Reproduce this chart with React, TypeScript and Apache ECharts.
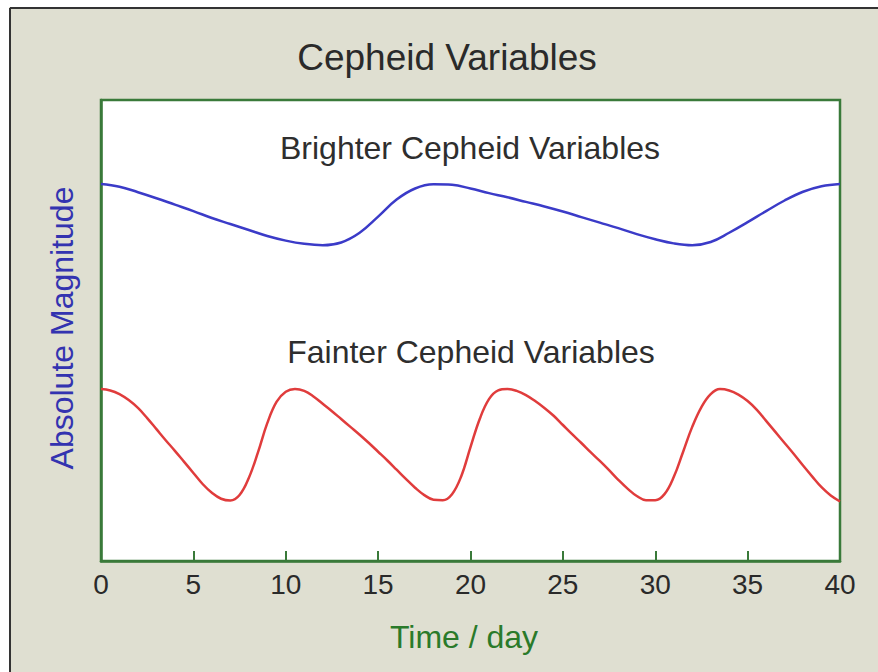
import React, { useEffect, useRef } from "react";
import * as echarts from "echarts";

const chartTitle = "Cepheid Variables";
const xAxisTitle = "Time / day";
const yAxisTitle = "Absolute Magnitude";
const brightLabel = "Brighter Cepheid Variables";
const faintLabel = "Fainter Cepheid Variables";

// x-axis ticks (days)
const xMin = 0;
const xMax = 40;
const xStep = 5;
// y axis: relative brightness level (higher = brighter), no labels shown
const yMin = 0;
const yMax = 10;

// Brighter Cepheid: one reading per day
const brightDays = [0, 1, 2, 3, 4, 5, 6, 7, 8, 9, 10, 11, 12, 13, 14, 15, 16, 17, 18, 19, 20, 21, 22, 23, 24, 25, 26, 27, 28, 29, 30, 31, 32, 33, 34, 35, 36, 37, 38, 39, 40];
const brightLevel = [8.18, 8.12, 8.0, 7.87, 7.73, 7.59, 7.44, 7.31, 7.18, 7.05, 6.95, 6.88, 6.85, 6.91, 7.12, 7.47, 7.84, 8.08, 8.17, 8.16, 8.08, 7.98, 7.89, 7.79, 7.69, 7.58, 7.46, 7.34, 7.22, 7.09, 6.98, 6.89, 6.85, 6.92, 7.12, 7.35, 7.59, 7.82, 8.01, 8.13, 8.18];

// Fainter Cepheid: one reading per half day
const faintDays = [0, 0.5, 1, 1.5, 2, 2.5, 3, 3.5, 4, 4.5, 5, 5.5, 6, 6.5, 7, 7.5, 8, 8.5, 9, 9.5, 10, 10.5, 11, 11.5, 12, 12.5, 13, 13.5, 14, 14.5, 15, 15.5, 16, 16.5, 17, 17.5, 18, 18.5, 19, 19.5, 20, 20.5, 21, 21.5, 22, 22.5, 23, 23.5, 24, 24.5, 25, 25.5, 26, 26.5, 27, 27.5, 28, 28.5, 29, 29.5, 30, 30.5, 31, 31.5, 32, 32.5, 33, 33.5, 34, 34.5, 35, 35.5, 36, 36.5, 37, 37.5, 38, 38.5, 39, 39.5, 40];
const faintLevel = [
  3.73, 3.70, 3.62, 3.49, 3.32, 3.10, 2.86, 2.62, 2.39, 2.15,
  1.91, 1.67, 1.48, 1.35, 1.31, 1.43, 1.80, 2.36, 2.99, 3.45,
  3.67, 3.73, 3.69, 3.57, 3.41, 3.25, 3.08, 2.91, 2.74, 2.56,
  2.37, 2.18, 1.98, 1.78, 1.59, 1.43, 1.33, 1.32, 1.45, 1.84,
  2.47, 3.08, 3.51, 3.70, 3.73, 3.69, 3.60, 3.47, 3.32, 3.15,
  2.95, 2.75, 2.56, 2.36, 2.17, 1.97, 1.76, 1.57, 1.41, 1.32,
  1.32, 1.45, 1.82, 2.36, 2.91, 3.34, 3.62, 3.73, 3.70, 3.61,
  3.47, 3.28, 3.04, 2.80, 2.56, 2.32, 2.07, 1.83, 1.60, 1.42,
  1.29,
];

const FONT = '"Liberation Sans", Arial, Helvetica, sans-serif';
const GREEN = "#3a7a3a";

export default function App() {
  const ref = useRef<HTMLDivElement>(null);
  useEffect(() => {
    document.body.style.margin = "0";
    const chart = echarts.init(ref.current!, undefined, { renderer: "svg" });
    const bright = brightDays.map((d, i) => [d, brightLevel[i]]);
    const faint = faintDays.map((d, i) => [d, faintLevel[i]]);
    chart.setOption({
      animation: false,
      backgroundColor: "#dfdfd1",
      grid: {
        left: 101,
        top: 100,
        right: 38,
        bottom: 111,
        show: true,
        backgroundColor: "#ffffff",
        borderColor: GREEN,
        borderWidth: 2.5,
      },
      xAxis: {
        type: "value",
        position: "bottom",
        z: 5,
        min: xMin,
        max: xMax,
        interval: xStep,
        axisLine: { show: true, onZero: false, lineStyle: { color: GREEN, width: 2.5 } },
        axisTick: { show: true, inside: true, length: 10, lineStyle: { color: GREEN, width: 2 } },
        splitLine: { show: false },
        axisLabel: { color: "#2a2a2a", fontSize: 28, fontFamily: FONT, margin: 9 },
      },
      yAxis: {
        type: "value",
        min: yMin,
        max: yMax,
        axisLine: { show: true, onZero: false, lineStyle: { color: GREEN, width: 2.5 } },
        axisTick: { show: false },
        axisLabel: { show: false },
        splitLine: { show: false },
      },
      series: [
        {
          type: "line",
          data: bright,
          smooth: 0.4,
          showSymbol: false,
          lineStyle: { color: "#3b3bc8", width: 2.5 },
        },
        {
          type: "line",
          data: faint,
          smooth: 0.4,
          showSymbol: false,
          lineStyle: { color: "#e03c3c", width: 2.5 },
        },
      ],
      graphic: [
        { type: "rect", shape: { x: 0, y: 0, width: 878, height: 7 }, style: { fill: "#ffffff" }, silent: true },
        { type: "rect", shape: { x: 0, y: 0, width: 9, height: 672 }, style: { fill: "#ffffff" }, silent: true },
        { type: "line", shape: { x1: 10, y1: 8, x2: 878, y2: 8 }, style: { stroke: "#333333", lineWidth: 2 }, silent: true },
        { type: "line", shape: { x1: 10, y1: 8, x2: 10, y2: 672 }, style: { stroke: "#333333", lineWidth: 2 }, silent: true },
        {
          type: "text", x: 447, y: 57,
          style: { text: chartTitle, fill: "#2a2a2a", font: `37px ${FONT}`, textAlign: "center", textVerticalAlign: "middle" },
        },
        {
          type: "text", x: 470, y: 148,
          style: { text: brightLabel, fill: "#2e2e2e", font: `32px ${FONT}`, textAlign: "center", textVerticalAlign: "middle" },
        },
        {
          type: "text", x: 471, y: 352,
          style: { text: faintLabel, fill: "#2e2e2e", font: `32px ${FONT}`, textAlign: "center", textVerticalAlign: "middle" },
        },
        {
          type: "text", x: 464, y: 637,
          style: { text: xAxisTitle, fill: "#2a7a2a", font: `32px ${FONT}`, textAlign: "center", textVerticalAlign: "middle" },
        },
        {
          type: "text", x: 62, y: 328, rotation: Math.PI / 2,
          style: { text: yAxisTitle, fill: "#3333b0", font: `32px ${FONT}`, textAlign: "center", textVerticalAlign: "middle" },
        },
      ],
    });
    return () => chart.dispose();
  }, []);
  return <div ref={ref} style={{ width: 878, height: 672 }} />;
}
